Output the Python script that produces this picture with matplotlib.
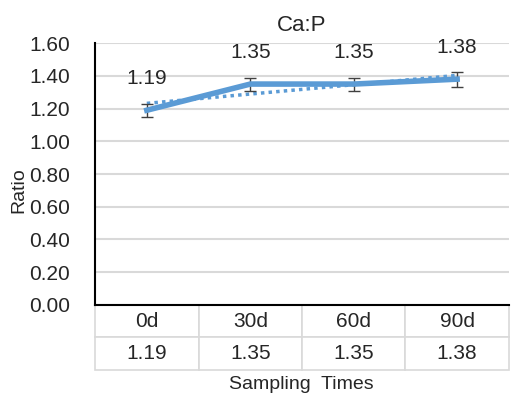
import numpy as np
import matplotlib.pyplot as plt

plt.rcParams['font.family'] = ['Liberation Sans', 'DejaVu Sans']

times = ["0d", "30d", "60d", "90d"]
ratio = [1.19, 1.35, 1.35, 1.38]
err = [0.04, 0.04, 0.04, 0.045]

blue = '#5b9bd5'
grid_c = '#d9d9d9'
txt_c = '#262626'

fig = plt.figure(figsize=(5.14, 3.96), dpi=100)
ax = fig.add_axes([0.185, 0.23, 0.805, 0.661])

x = np.arange(len(times))
ax.errorbar(x, ratio, yerr=err, color=blue, lw=4, ecolor='#404040', elinewidth=1,
            capsize=4, capthick=1, zorder=3)

# linear trendline
k, b = np.polyfit(x, ratio, 1)
ax.plot(x, k * x + b, color=blue, lw=2.5, ls=(0, (1, 1.2)), zorder=2)

for xi, v in zip(x, ratio):
    ax.annotate("%.2f" % v, (xi, v), xytext=(0, 16), textcoords='offset points',
                ha='center', va='bottom', fontsize=15, color=txt_c)

ax.set_xlim(-0.5, len(times) - 0.5)
ax.set_ylim(0, 1.6)
ax.set_yticks(np.arange(0, 1.61, 0.2))
ax.set_yticklabels(["%.2f" % t for t in np.arange(0, 1.61, 0.2)], fontsize=15, color=txt_c)
ax.set_xticks([])
ax.tick_params(axis='y', length=0, pad=18)
ax.yaxis.grid(True, color=grid_c, lw=1.5)
ax.set_axisbelow(True)
for s in ['top', 'right']:
    ax.spines[s].set_visible(False)
ax.spines['left'].set_linewidth(1.5)
ax.spines['bottom'].set_linewidth(1.5)

ax.set_title("Ca:P", fontsize=16, pad=9, color=txt_c)
fig.text(0.036, 0.52, "Ratio", rotation=90, ha='center', va='center', fontsize=14, color=txt_c)

tbl = ax.table(cellText=[times, ["%.2f" % v for v in ratio]], cellLoc='center',
               bbox=[0, -0.248, 1, 0.248])
tbl.auto_set_font_size(False)
tbl.set_fontsize(15)
for cell in tbl.get_celld().values():
    cell.set_edgecolor(grid_c)
    cell.set_linewidth(1.2)
    cell.get_text().set_color(txt_c)

fig.text(0.587, 0.028, "Sampling  Times", ha='center', va='center', fontsize=14, color=txt_c)

fig.savefig("out.png", dpi=100)
